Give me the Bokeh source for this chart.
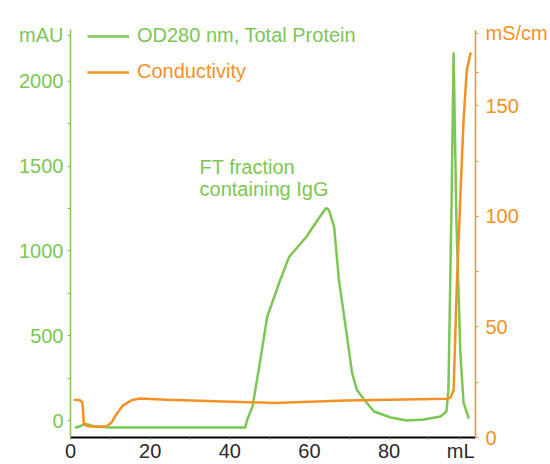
from bokeh.plotting import figure
from bokeh.models import Range1d, LinearAxis, FixedTicker, Legend, LegendItem, Label
from bokeh.embed import file_html
from bokeh.resources import INLINE

GREEN = "#7cc653"
ORANGE = "#f39125"
FONT = "Liberation Sans"
FS = "20px"

# OD280 (mAU) vs volume (mL)
od_ml = [1.1, 2.35, 3.6, 6.1, 9.9, 43.9, 44.4, 45.7, 47.4, 49.4, 52.4, 54.9, 59.2, 62.4,
         64.2, 64.9, 66.2, 67.4, 69.2, 70.7, 71.9, 73.7, 76.2, 80.4, 84.5, 88.7, 92.9,
         94.4, 94.9, 95.7, 96.2, 96.9, 97.9, 98.7, 100.0]
od_mau = [-41, -35, -18, -35, -41, -41, 6, 82, 318, 612, 812, 965, 1082, 1194,
          1253, 1241, 1141, 829, 535, 282, 182, 124, 53, 18, 0, 6, 24,
          53, 182, 1300, 2170, 1182, 400, 106, 12]

# Conductivity (mS/cm) vs volume (mL)
cond_ml = [0.85, 2.4, 3.0, 3.35, 4.85, 9.1, 10.3, 11.5, 13.1, 15.3, 17.4, 24.1, 51.2,
           69.1, 94.6, 95.4, 96.2, 97.0, 98.0, 98.7, 99.5, 100.5]
cond_ms = [17.1, 16.8, 15.8, 5.9, 5.0, 5.1, 6.8, 10.4, 14.4, 16.8, 17.6, 17.1, 15.6,
           16.7, 17.5, 18.0, 21.5, 68.1, 113.2, 143.4, 166.0, 174.1]

x_ticks = [0, 20, 40, 60, 80, 98]
x_tick_labels = {98: "mL"}
x_minor = [10, 30, 50, 70, 90]
left_ticks = [0, 500, 1000, 1500, 2000, 2270]
left_tick_labels = {2270: "mAU"}
left_minor = [250, 750, 1250, 1750]
right_ticks = [0, 50, 100, 150, 182.7]
right_tick_labels = {182.7: "mS/cm"}
right_minor = [25, 75, 125, 165]

p = figure(width=550, height=464, output_backend="svg", toolbar_location=None,
           x_range=Range1d(0, 101.7), y_range=Range1d(-100, 2476),
           min_border_left=70, min_border_right=73, min_border_top=0, min_border_bottom=26)
p.extra_y_ranges = {"cond": Range1d(0, 197.6)}
p.grid.visible = False
p.outline_line_color = None
p.background_fill_color = "white"

r1 = p.line(od_ml, od_mau, color=GREEN, line_width=2.5)
r2 = p.line(cond_ml, cond_ms, color=ORANGE, line_width=2.5, y_range_name="cond")

# bottom axis
xa = p.xaxis[0]
xa.ticker = FixedTicker(ticks=x_ticks, minor_ticks=x_minor)
xa.major_label_overrides = x_tick_labels
xa.axis_line_color = "black"
xa.axis_line_width = 2
xa.major_tick_line_color = "#888888"
xa.minor_tick_line_color = "#888888"
xa.major_tick_in = 0
xa.major_tick_out = 2
xa.minor_tick_in = 0
xa.minor_tick_out = 2
xa.major_label_standoff = 0
xa.major_label_text_font = FONT
xa.major_label_text_font_size = FS
xa.major_label_text_color = "#2a2a2a"

# left axis
ya = p.yaxis[0]
ya.ticker = FixedTicker(ticks=left_ticks, minor_ticks=left_minor)
ya.major_label_overrides = left_tick_labels
ya.bounds = (-100, 2306)
ya.axis_line_color = GREEN
ya.axis_line_width = 1.5
ya.major_tick_line_color = GREEN
ya.minor_tick_line_color = GREEN
ya.major_tick_in = 0
ya.major_tick_out = 3
ya.minor_tick_in = 0
ya.minor_tick_out = 3
ya.major_label_standoff = 4
ya.major_label_text_font = FONT
ya.major_label_text_font_size = FS
ya.major_label_text_color = GREEN

# right axis
ra = LinearAxis(y_range_name="cond", ticker=FixedTicker(ticks=right_ticks, minor_ticks=right_minor))
ra.major_label_overrides = right_tick_labels
ra.bounds = (0, 184)
ra.axis_line_color = ORANGE
ra.axis_line_width = 1.5
ra.major_tick_line_color = ORANGE
ra.minor_tick_line_color = ORANGE
ra.major_tick_in = 0
ra.major_tick_out = 3
ra.minor_tick_in = 0
ra.minor_tick_out = 3
ra.major_label_standoff = 7
ra.major_label_text_font = FONT
ra.major_label_text_font_size = FS
ra.major_label_text_color = ORANGE
p.add_layout(ra, "right")

# legends
def make_legend(label, rend, color, loc):
    return Legend(items=[LegendItem(label=label, renderers=[rend])], location=loc,
                  glyph_width=42, glyph_height=20, label_height=20, label_standoff=8,
                  padding=0, margin=0, spacing=0,
                  background_fill_alpha=0, border_line_alpha=0,
                  label_text_font=FONT, label_text_font_size=FS,
                  label_text_color=color)

p.add_layout(make_legend("OD280 nm, Total Protein", r1, GREEN, (17, 390)))
p.add_layout(make_legend("Conductivity", r2, ORANGE, (17, 354)))

# annotation
p.add_layout(Label(x=32.4, y=1560, text="FT fraction\ncontaining IgG", text_align="left",
                   text_baseline="top", text_font=FONT, text_font_size=FS,
                   text_color=GREEN, text_line_height=1.0))

open("out.html", "w").write(file_html(p, INLINE))
